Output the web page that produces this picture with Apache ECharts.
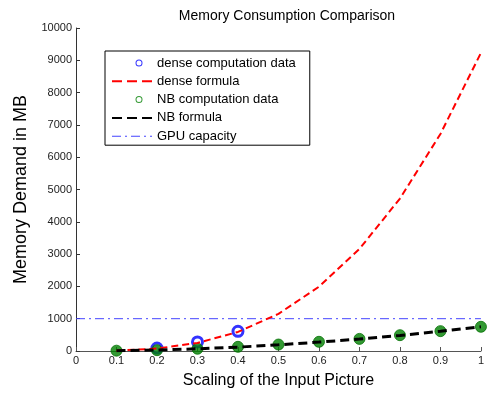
<!DOCTYPE html>
<html>
<head>
<meta charset="utf-8">
<script src="https://cdn.jsdelivr.net/npm/echarts@6/dist/echarts.min.js"></script>
<style>
  html, body { margin: 0; padding: 0; background: #fff; }
  #main { width: 487px; height: 394px; }
</style>
</head>
<body>
<div id="main"></div>
<script>
// 数据
var scales = [0.1, 0.2, 0.3, 0.4, 0.5, 0.6, 0.7, 0.8, 0.9, 1.0];
var denseFormula = [10, 75, 250, 590, 1150, 1990, 3160, 4720, 6720, 9230];
var denseScales = [0.2, 0.3, 0.4];
var denseData = [90, 280, 610];
var nbFormula = [8, 30, 68, 120, 190, 275, 370, 480, 610, 750];
var nbData = [10, 25, 70, 130, 200, 285, 375, 490, 615, 750];
var gpuCapacity = 1000;

var font = "Liberation Sans, Arial, sans-serif";

function pairs(xs, ys) {
  var out = [];
  for (var i = 0; i < xs.length; i++) {
    out.push([xs[i], ys[i]]);
  }
  return out;
}

// 图例里的图标（40x14 的框）
var dashIcon = "path://M0,0 M40,14 M0,6 L10,6 L10,8 L0,8 Z M15,6 L25,6 L25,8 L15,8 Z M30,6 L40,6 L40,8 L30,8 Z";
var dashDotIcon = "path://M0,0 M40,14 M0,6.5 L9,6.5 L9,7.5 L0,7.5 Z M13,6.5 L15,6.5 L15,7.5 L13,7.5 Z M19,6.5 L28,6.5 L28,7.5 L19,7.5 Z M32,6.5 L34,6.5 L34,7.5 L32,7.5 Z M38,6.5 L40,6.5 L40,7.5 L38,7.5 Z";
var ringIcon = "path://M0,0 M40,14 M30.5,7 A3.5,3.5 0 1 0 23.5,7 A3.5,3.5 0 1 0 30.5,7 Z M29.5,7 A2.5,2.5 0 1 1 24.5,7 A2.5,2.5 0 1 1 29.5,7 Z";

var chart = echarts.init(document.getElementById("main"), null, { renderer: "canvas" });

var option = {
  animation: false,
  title: {
    text: "Memory Consumption Comparison",
    left: 282,
    textAlign: "center",
    top: 4,
    textStyle: { fontFamily: font, fontSize: 14, fontWeight: "normal", color: "#000" },
  },
  legend: {
    orient: "vertical",
    left: 105,
    top: 51,
    padding: [5, 14, 2, 7],
    itemGap: 4.3,
    itemWidth: 40,
    itemHeight: 14,
    borderColor: "#000",
    borderWidth: 1,
    backgroundColor: "#fff",
    textStyle: { fontFamily: font, fontSize: 13, color: "#000" },
    data: [
      { name: "dense computation data", icon: ringIcon, itemStyle: { color: "#0000ff", borderWidth: 0 } },
      { name: "dense formula", icon: dashIcon, itemStyle: { color: "#ff0000", borderWidth: 0 } },
      { name: "NB computation data", icon: ringIcon, itemStyle: { color: "#008000", borderWidth: 0 } },
      { name: "NB formula", icon: dashIcon, itemStyle: { color: "#000000", borderWidth: 0 } },
      { name: "GPU capacity", icon: dashDotIcon, itemStyle: { color: "#4444ff", borderWidth: 0 } },
    ],
  },
  grid: { left: 76, right: 1, top: 28, bottom: 42, containLabel: false },
  xAxis: {
    type: "value",
    min: 0,
    max: 1,
    interval: 0.1,
    name: "Scaling of the Input Picture",
    nameLocation: "middle",
    nameGap: 22,
    nameTextStyle: { fontFamily: font, fontSize: 16, color: "#000" },
    axisLine: { show: true, lineStyle: { color: "#555", width: 1 } },
    axisTick: { show: true, inside: true, length: 4, lineStyle: { color: "#555" } },
    axisLabel: { fontFamily: font, fontSize: 11, color: "#222", margin: 4, showMaxLabel: true },
    splitLine: { show: false },
  },
  yAxis: {
    type: "value",
    min: 0,
    max: 10000,
    interval: 1000,
    name: "Memory Demand in MB",
    nameLocation: "middle",
    nameGap: 33,
    nameTextStyle: { fontFamily: font, fontSize: 18, color: "#000" },
    axisLine: { show: true, lineStyle: { color: "#333", width: 1 } },
    axisTick: { show: true, inside: true, length: 4, lineStyle: { color: "#333" } },
    axisLabel: {
      fontFamily: font,
      fontSize: 11,
      color: "#222",
      margin: 4,
      formatter: function (value) {
        return String(value);
      },
    },
    splitLine: { show: false },
  },
  series: [
    {
      name: "GPU capacity",
      type: "line",
      data: [[0, gpuCapacity], [1, gpuCapacity]],
      symbol: "none",
      color: "#4444ff",
      lineStyle: { color: "#4444ff", width: 1, type: [9, 4, 2, 4] },
      z: 2,
    },
    {
      name: "dense computation data",
      type: "scatter",
      data: pairs(denseScales, denseData),
      symbol: "circle",
      symbolSize: 10,
      color: "#0000ff",
      itemStyle: { color: "#ffffff", borderColor: "#0000ff", borderWidth: 3 },
      z: 3,
    },
    {
      name: "NB computation data",
      type: "scatter",
      data: pairs(scales, nbData),
      symbol: "circle",
      symbolSize: 11,
      color: "#008000",
      itemStyle: { color: "#008000", borderColor: "#007000", borderWidth: 1 },
      z: 3,
    },
    {
      name: "dense formula",
      type: "line",
      data: pairs(scales, denseFormula),
      symbol: "none",
      color: "#ff0000",
      lineStyle: { color: "#ff0000", width: 2, type: [7, 4] },
      z: 4,
    },
    {
      name: "NB formula",
      type: "line",
      data: pairs(scales, nbFormula),
      symbol: "none",
      color: "#000000",
      lineStyle: { color: "#000000", width: 3, type: [9, 5] },
      z: 4,
    },
  ],
};

chart.setOption(option);
</script>
</body>
</html>
